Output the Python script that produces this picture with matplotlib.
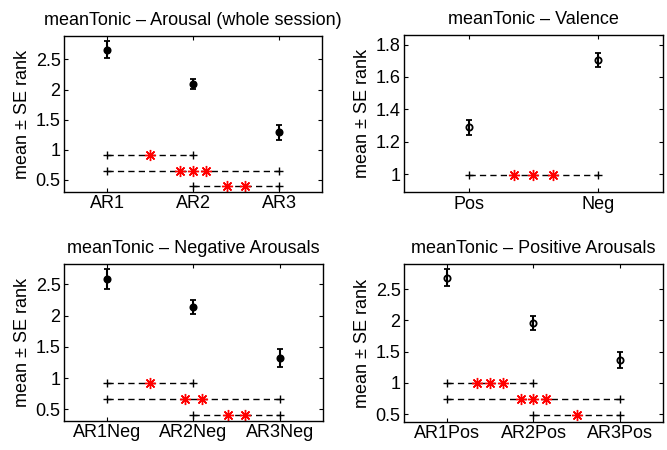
import matplotlib
matplotlib.use("Agg")
import matplotlib.pyplot as plt
from matplotlib.ticker import FormatStrFormatter

plt.rcParams['font.family'] = ['Liberation Sans', 'DejaVu Sans']
plt.rcParams['font.size'] = 13

# --- data ---
ar_labels = ['AR1', 'AR2', 'AR3']
ar_mean = [2.66, 2.09, 1.29]
ar_se = [0.14, 0.085, 0.125]
ar_pairs = [(1, 2), (1, 3), (2, 3)]
ar_line_y = [0.91, 0.647, 0.404]
ar_stars = [[1.5], [1.85, 2.0, 2.15], [2.4, 2.6]]

val_labels = ['Pos', 'Neg']
val_mean = [1.288, 1.705]
val_se = [0.048, 0.045]
val_pairs = [(1, 2)]
val_line_y = [0.994]
val_stars = [[1.35, 1.5, 1.65]]

neg_labels = ['AR1Neg', 'AR2Neg', 'AR3Neg']
neg_mean = [2.585, 2.14, 1.32]
neg_se = [0.157, 0.115, 0.15]
neg_pairs = [(1, 2), (1, 3), (2, 3)]
neg_line_y = [0.916, 0.665, 0.41]
neg_stars = [[1.5], [1.9, 2.1], [2.4, 2.6]]

pos_labels = ['AR1Pos', 'AR2Pos', 'AR3Pos']
pos_mean = [2.686, 1.965, 1.37]
pos_se = [0.14, 0.11, 0.125]
pos_pairs = [(1, 2), (1, 3), (2, 3)]
pos_line_y = [0.995, 0.745, 0.494]
pos_stars = [[1.35, 1.5, 1.65], [1.85, 2.0, 2.15], [2.5]]


def panel(ax, title, labels, mean, se, pairs, line_y, stars, ylim, yticks, filled):
    x = list(range(1, len(labels) + 1))
    for (a, b), y in zip(pairs, line_y):
        ax.plot([a, b], [y, y], color='black', lw=1.0, ls=(0, (4.5, 3)),
                marker='+', ms=6, mew=1.0)
    for (a, b), y, sx in zip(pairs, line_y, stars):
        ax.plot(sx, [y] * len(sx), ls='none', marker=(8, 2, 0), ms=8,
                mew=1.0, color='red')
    ax.errorbar(x, mean, yerr=se, fmt='o', color='black', ms=4.5,
                mfc='black' if filled else 'none', mew=1.3,
                elinewidth=1.5, capsize=2, capthick=1.3)
    ax.set_xlim(0.5, len(labels) + 0.5)
    ax.set_ylim(*ylim)
    ax.set_xticks(x)
    ax.set_xticklabels(labels)
    ax.set_yticks(yticks)
    ax.yaxis.set_major_formatter(FormatStrFormatter('%g'))
    ax.tick_params(direction='in', top=True, right=True, length=3, width=0.8,
                   labelsize=13, pad=2.5)
    for s in ax.spines.values():
        s.set_linewidth(1.0)
    ax.set_ylabel(u'mean \u00b1 SE rank', fontsize=13, labelpad=3)
    ax.set_title(title, fontsize=13, pad=8)


fig = plt.figure(figsize=(6.67, 4.5), dpi=100)
ax1 = fig.add_axes([0.096, 0.5733, 0.3868, 0.3467])
ax2 = fig.add_axes([0.6057, 0.5726, 0.3883, 0.350])
ax3 = fig.add_axes([0.096, 0.0644, 0.388, 0.349])
ax4 = fig.add_axes([0.6057, 0.0629, 0.3883, 0.350])

panel(ax1, u'meanTonic \u2013 Arousal (whole session)', ar_labels, ar_mean, ar_se,
      ar_pairs, ar_line_y, ar_stars, (0.3, 2.89), [0.5, 1, 1.5, 2, 2.5], True)
panel(ax2, u'meanTonic \u2013 Valence', val_labels, val_mean, val_se,
      val_pairs, val_line_y, val_stars, (0.887, 1.86), [1, 1.2, 1.4, 1.6, 1.8], False)
panel(ax3, u'meanTonic \u2013 Negative Arousals', neg_labels, neg_mean, neg_se,
      neg_pairs, neg_line_y, neg_stars, (0.313, 2.825), [0.5, 1, 1.5, 2, 2.5], True)
panel(ax4, u'meanTonic \u2013 Positive Arousals', pos_labels, pos_mean, pos_se,
      pos_pairs, pos_line_y, pos_stars, (0.38, 2.9), [0.5, 1, 1.5, 2, 2.5], False)

fig.savefig('out.png', dpi=100)
